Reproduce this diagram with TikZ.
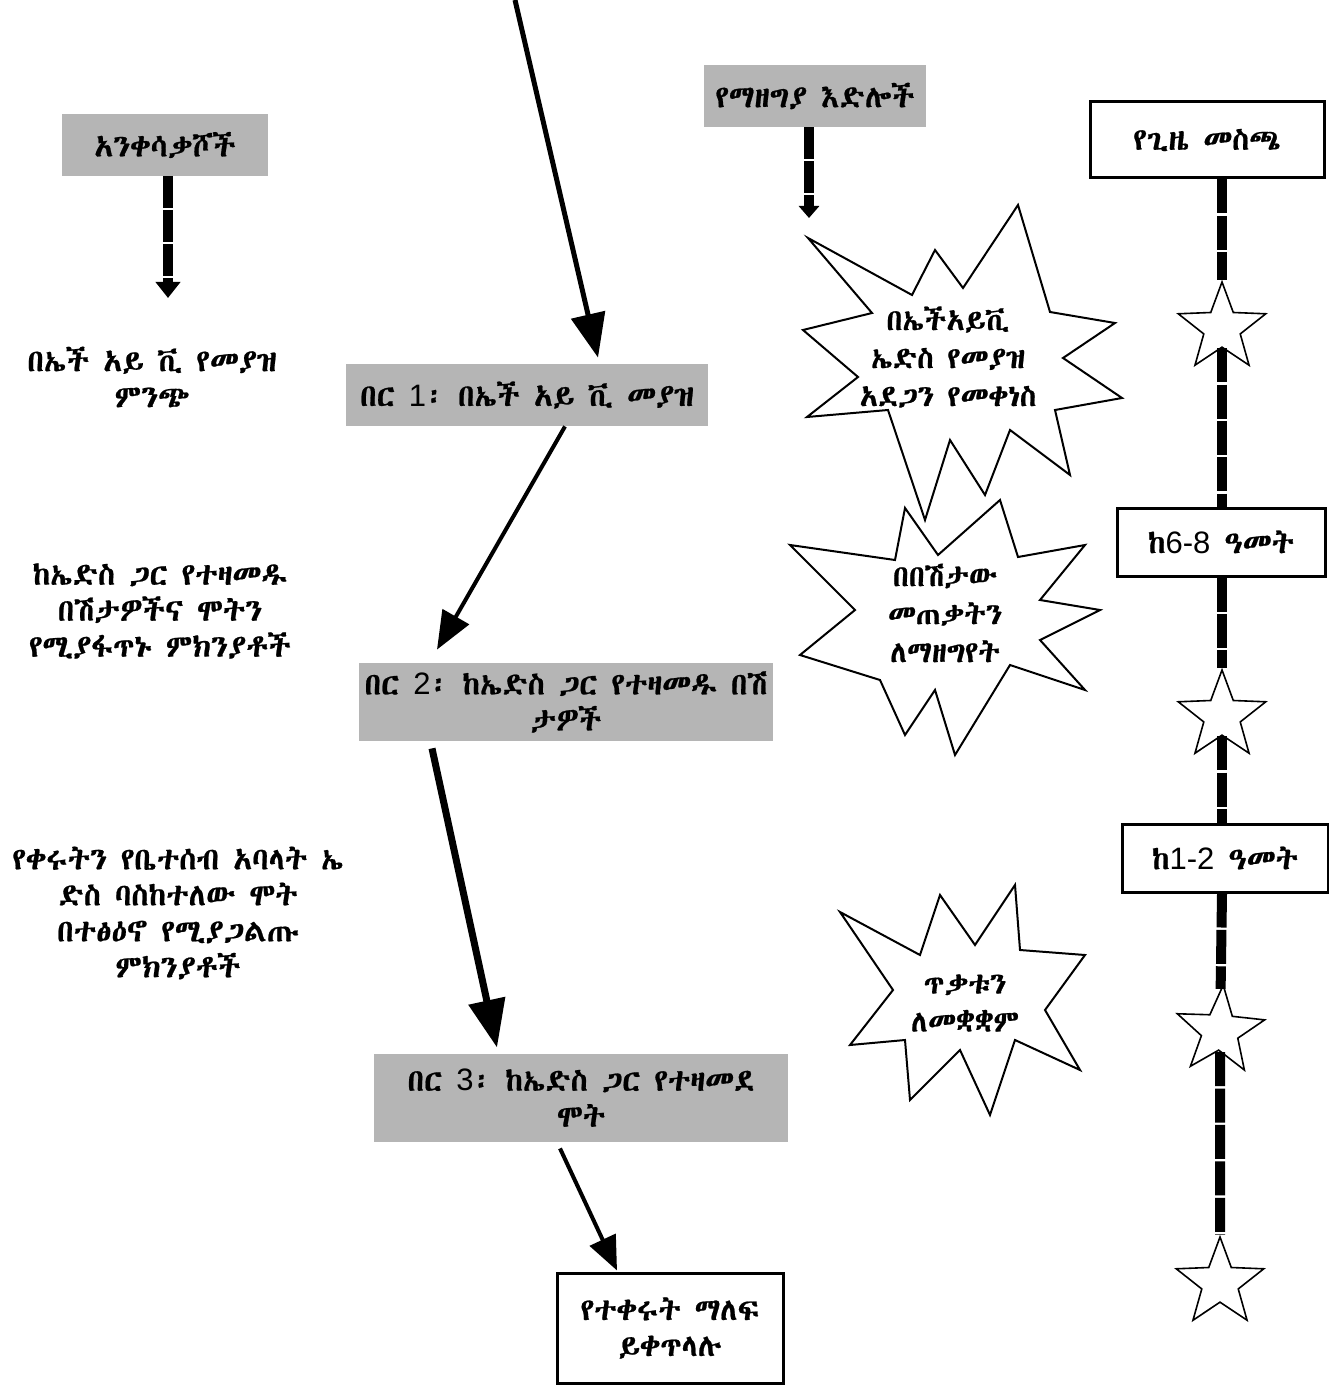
\documentclass[tikz,border=0pt]{standalone}
\usepackage{fontspec}
\IfFontExistsTF{Abyssinica SIL}{\setmainfont{Abyssinica SIL}[FakeBold=0.7]}{\setmainfont{Noto Sans Ethiopic}[FakeBold=0.7]}
\newfontfamily\numfont{Liberation Sans}
\usetikzlibrary{arrows.meta,shapes.geometric,calc}
\definecolor{boxgray}{RGB}{181,181,181}

\begin{document}
\begin{tikzpicture}[x=0.5pt,y=-0.5pt,
   font=\fontsize{15.5}{18}\selectfont,
   graybox/.style={rectangle,fill=boxgray,inner sep=0pt,align=center},
   whitebox/.style={rectangle,draw,line width=1.5pt,fill=white,
    inner sep=0pt,align=center},
   plain/.style={inner sep=0pt,align=center},
   starmark/.style={star,star points=5,star point ratio=2.4,
    minimum size=46pt,inner sep=0pt,draw,line width=0.8pt,fill=white},
   burst/.style={draw,line width=1pt,line join=miter,fill=white},
   dasharrow/.style={line width=5pt,dash pattern=on 16pt off 1pt,
    -{Triangle[length=8pt,width=12pt]}},
   timeline/.style={line width=5pt,dash pattern=on 17pt off 1.2pt}
    ]
  \useasboundingbox (0,0) rectangle (1328,1385);

  % -- left column
  \node[graybox,minimum width=103pt,minimum height=31pt] at (165,145) (drv) {አንቀሳቃሾች};
  \node[plain] at (152,377) (src) {በኤች አይ ቪ የመያዝ\\ምንጭ};
  \node[plain] at (160,611) (acc) {ከኤድስ ጋር የተዛመዱ\\በሽታዎችና ሞትን\\የሚያፋጥኑ ምክንያቶች};
  \node[plain] at (178,913) (risk) {የቀሩትን የቤተሰብ አባላት ኤ\\ድስ ባስከተለው ሞት\\በተፅዕኖ የሚያጋልጡ\\ምክንያቶች};
  \coordinate (drvtip) at (168,298);
  \draw[dasharrow] (drv.south -| drvtip) -- (drvtip);

  % -- middle column
  \node[graybox,minimum width=181pt,minimum height=31pt] at (527,395) (gate1) {በር {\numfont 1}፡ በኤች አይ ቪ መያዝ};
  \node[graybox,minimum width=207pt,minimum height=39pt] at (566,702) (gate2) {በር {\numfont 2}፡ ከኤድስ ጋር የተዛመዱ በሽ\\ታዎች};
  \node[graybox,minimum width=207pt,minimum height=44pt] at (581,1098) (gate3) {በር {\numfont 3}፡ ከኤድስ ጋር የተዛመደ\\ሞት};
  \node[whitebox,minimum width=113pt,minimum height=55pt] at (670,1328) (rest) {የተቀሩት ማለፍ\\ይቀጥላሉ};

  \coordinate (entry) at (515,0);
  \draw[line width=2.5pt,-{Triangle[length=22pt,width=17pt]}] (entry) -- ($(gate1.north)+(71,-6)$);
  \draw[line width=2pt,-{Triangle[length=19pt,width=15pt]}] ($(gate1.south)+(38,0)$) -- ($(gate2.north)+(-129,-13)$);
  \draw[line width=3.5pt,-{Triangle[length=24pt,width=18pt]}] ($(gate2.south)+(-134,7)$) -- ($(gate3.north)+(-84,-6)$);
  \draw[line width=2pt,-{Triangle[length=17pt,width=14pt]}] ($(gate3.south)+(-21,6)$) -- ($(rest.north)+(-53,-1)$);

  % -- bursts
  \node[graybox,minimum width=111pt,minimum height=31pt] at (815,96) (opp) {የማዘግያ እድሎች};
  \coordinate (opptip) at (809,218);
  \draw[dasharrow,-{Triangle[length=6pt,width=10pt]}] (opp.south -| opptip) -- (opptip);

  \draw[burst] (803,330) -- (872,313) -- (808,238) -- (912,295) -- (935,250) -- (963,288)
    -- (1018,205) -- (1050,312) -- (1115,323) -- (1063,358) -- (1122,398) -- (1055,410)
    -- (1070,475) -- (1010,430) -- (985,495) -- (950,440) -- (925,520) -- (888,410)
    -- (807,417) -- (858,377) -- cycle;
  \node[plain,font=\fontsize{15}{19}\selectfont] at (948,357) (cut) {በኤችአይቪ\\ኤድስ የመያዝ\\አደጋን የመቀነስ};

  \draw[burst] (790,545) -- (895,560) -- (905,508) -- (938,555) -- (1000,500) -- (1018,557)
    -- (1085,545) -- (1040,600) -- (1100,610) -- (1040,640) -- (1085,690) -- (1010,665)
    -- (955,755) -- (935,690) -- (905,735) -- (880,680) -- (800,655) -- (855,610) -- cycle;
  \node[plain,font=\fontsize{15}{19}\selectfont] at (945,613) (delay) {በበሽታው\\መጠቃትን\\ለማዘግየት};

  \draw[burst] (840,912) -- (920,955) -- (940,895) -- (975,945) -- (1015,885) -- (1020,950)
    -- (1085,955) -- (1045,1010) -- (1080,1070) -- (1015,1040) -- (990,1115) -- (960,1050)
    -- (910,1100) -- (905,1040) -- (850,1045) -- (893,990) -- cycle;
  \node[plain,font=\fontsize{15}{19}\selectfont] at (965,1003) (cope) {ጥቃቱን\\ለመቋቋም};

  % -- time line
  \node[whitebox,minimum width=117pt,minimum height=38pt] at (1207,140) (time) {የጊዜ መስጫ};
  \node[whitebox,minimum width=104pt,minimum height=34pt] at (1221,542) (yr68) {ከ{\numfont 6-8} ዓመት};
  \node[whitebox,minimum width=103pt,minimum height=34pt] at (1225,858) (yr12) {ከ{\numfont 1-2} ዓመት};
  \node[starmark] at (1222,328) (st1) {};
  \node[starmark] at (1222,716) (st2) {};
  \node[starmark,rotate=-4] at (1220,1031) (st3) {};
  \node[starmark] at (1220,1283) (st4) {};

  \draw[timeline] (time.south -| st1) -- (st1);
  \draw[timeline] (st1) -- (st1 |- yr68.north);
  \draw[timeline] (st1 |- yr68.south) -- (st2);
  \draw[timeline] (st2) -- (st2 |- yr12.north);
  \draw[timeline] (st2 |- yr12.south) -- (st3);
  \draw[timeline] (st3) -- (st4);

\end{tikzpicture}
\end{document}
